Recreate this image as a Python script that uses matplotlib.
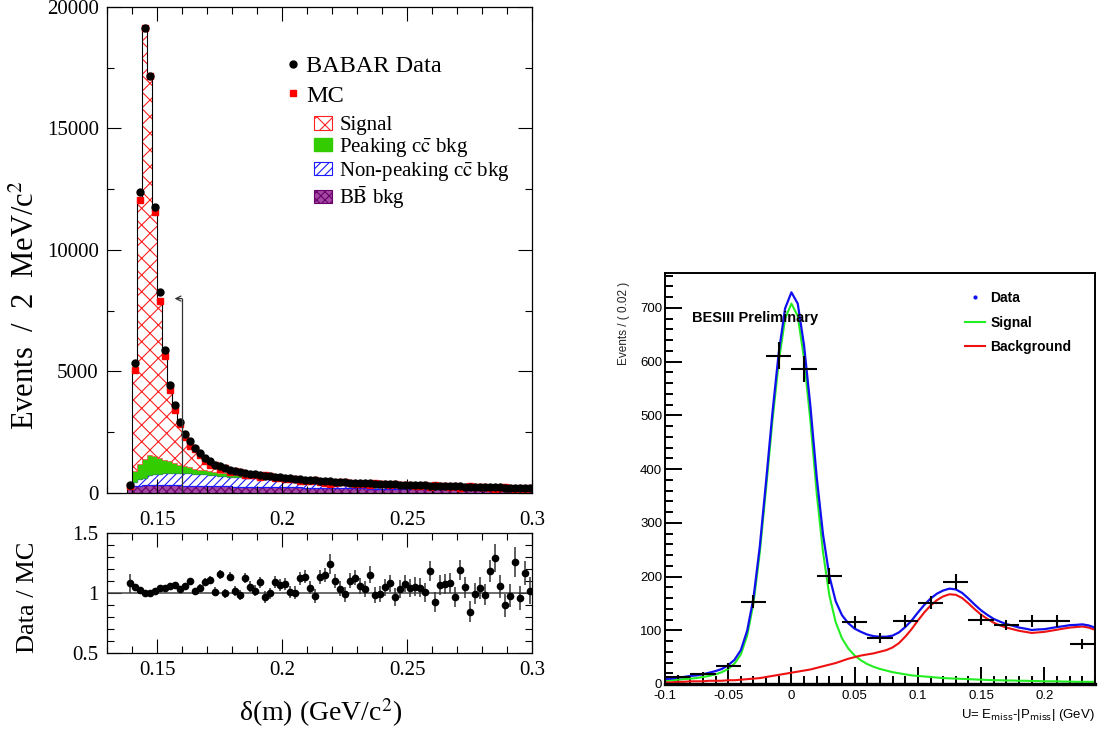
import numpy as np
import matplotlib
matplotlib.use('Agg')
import matplotlib.pyplot as plt
from matplotlib.lines import Line2D
from matplotlib.patches import Patch
from matplotlib.ticker import MultipleLocator, FuncFormatter

plt.rcParams['font.family'] = ['Liberation Serif', 'DejaVu Serif']
plt.rcParams['mathtext.fontset'] = 'stix'
plt.rcParams['hatch.linewidth'] = 0.8

# ---------------- BABAR delta(m), 2 MeV bins starting at 0.138 ----------------
bin_lo = 0.138
bin_w = 0.002
data_counts = [320, 5330, 12400, 19150, 17170, 11780, 8260, 5900, 4460, 3620,
               2920, 2430, 2120, 1850, 1630, 1420, 1300, 1170, 1120, 1030,
               960, 900, 860, 840, 800, 770, 730, 700, 680, 660,
               640, 620, 600, 580, 560, 545, 530, 515, 500, 490,
               480, 465, 450, 440, 430, 420, 410, 400, 392, 384,
               376, 368, 360, 352, 344, 337, 330, 323, 316, 310,
               304, 298, 292, 286, 280, 274, 268, 262, 256, 251,
               246, 241, 236, 231, 226, 221, 216, 212, 208, 204,
               200]
bb_bkg = [150, 290, 305, 315, 320, 320, 318, 316, 314, 312,
          310, 306, 302, 298, 294, 290, 286, 282, 278, 274,
          270, 266, 262, 258, 255, 252, 249, 246, 243, 240,
          237, 234, 231, 228, 225, 222, 219, 216, 213, 210,
          207, 204, 201, 198, 195, 192, 189, 186, 183, 180,
          178, 176, 174, 172, 170, 168, 166, 164, 162, 160,
          158, 156, 154, 152, 150, 148, 146, 145, 144, 143,
          142, 141, 140, 139, 138, 137, 136, 135, 134, 133,
          132]
nonpeak_bkg = [0, 180, 250, 320, 400, 440, 472, 494, 506, 518,
               520, 514, 508, 502, 490, 480, 470, 450, 436, 420,
               404, 392, 380, 368, 356, 346, 336, 326, 316, 306,
               298, 290, 282, 274, 266, 258, 250, 243, 236, 229,
               222, 215, 208, 202, 196, 190, 184, 178, 172, 166,
               160, 154, 148, 142, 137, 132, 127, 122, 117, 112,
               108, 104, 100, 96, 92, 88, 84, 80, 77, 74,
               71, 68, 65, 62, 59, 56, 53, 50, 48, 46,
               44]
peak_bkg = [0, 430, 640, 760, 830, 760, 660, 540, 480, 410,
            330, 280, 240, 200, 175, 160, 145, 135, 120, 110,
            100, 95, 88, 80, 72, 65, 60, 55, 50, 47,
            44, 40, 37, 34, 31, 28, 25, 22, 20, 18,
            16, 14, 12, 11, 10, 9, 8, 8, 7, 7,
            6, 6, 5, 5, 5, 4, 4, 4, 3, 3,
            3, 3, 2, 2, 2, 2, 2, 2, 1, 1,
            1, 1, 1, 1, 1, 1, 1, 1, 1, 1,
            1]
ratio = [1.081, 1.053, 1.028, 1.000, 1.000, 1.019, 1.044, 1.044, 1.056, 1.064,
         1.036, 1.061, 1.097, 1.017, 1.044, 1.092, 1.111, 1.011, 1.156, 0.997,
         1.136, 1.017, 0.983, 1.125, 1.053, 1.017, 1.089, 0.967, 0.997, 1.092,
         1.064, 1.075, 1.008, 1.000, 1.122, 1.136, 1.044, 0.975, 1.136, 1.150,
         1.242, 1.100, 1.036, 0.989, 1.103, 1.128, 1.056, 1.036, 1.153, 0.983,
         0.992, 1.047, 1.081, 0.967, 1.031, 1.078, 1.044, 1.053, 1.044, 1.006,
         1.183, 0.925, 1.064, 1.075, 1.086, 0.967, 1.192, 1.047, 0.844, 0.994,
         1.042, 0.986, 1.183, 1.292, 1.056, 0.897, 0.978, 1.261, 0.961, 1.167,
         1.02]
ratio_err = [0.080, 0.012, 0.010, 0.008, 0.008, 0.010, 0.012, 0.014, 0.016, 0.018,
             0.020, 0.024, 0.026, 0.028, 0.030, 0.032, 0.034, 0.036, 0.038, 0.040,
             0.040, 0.042, 0.042, 0.044, 0.044, 0.046, 0.046, 0.048, 0.048, 0.050,
             0.050, 0.052, 0.052, 0.054, 0.054, 0.056, 0.056, 0.058, 0.058, 0.060,
             0.080, 0.060, 0.062, 0.062, 0.064, 0.064, 0.066, 0.066, 0.068, 0.068,
             0.070, 0.070, 0.072, 0.072, 0.074, 0.074, 0.076, 0.076, 0.078, 0.078,
             0.080, 0.080, 0.082, 0.082, 0.084, 0.084, 0.086, 0.086, 0.088, 0.088,
             0.090, 0.090, 0.095, 0.120, 0.095, 0.095, 0.098, 0.125, 0.100, 0.100,
             0.110]
cut_x = 0.16      # selection cut, drawn as arrow
cut_top = 8000

# ---------------- BESIII U distribution ----------------
u_points = [-0.09, -0.07, -0.05, -0.03, -0.01, 0.01, 0.03, 0.05, 0.07,
            0.09, 0.11, 0.13, 0.15, 0.17, 0.19, 0.21, 0.23]
u_counts = [13, 19, 33, 153, 611, 586, 201, 116, 86, 118, 151, 190, 120, 110, 117, 118, 74]
u_err = [4, 4, 6, 12, 25, 24, 14, 11, 9, 11, 12, 14, 11, 10, 11, 11, 9]
u_halfbin = 0.01
u_curve = np.round(np.arange(-0.1, 0.2401, 0.005), 3)
sig_curve = [6, 7, 8, 9, 10, 11, 13, 15, 18, 22,
             28, 38, 55, 90, 150, 245, 365, 490, 600, 680,
             708, 685, 605, 490, 355, 245, 165, 115, 85, 66,
             53, 44, 37, 32, 28, 25, 22, 20, 18, 16,
             15, 14, 13, 12, 11, 10.5, 10, 9.5, 9, 8.5,
             8, 7.5, 7, 7, 6.5, 6.5, 6, 6, 5.5, 5.5,
             5, 5, 5, 4.5, 4.5, 4, 4, 4, 4]
bkg_curve = [3, 3, 4, 4, 5, 5, 5, 6, 6, 6,
             7, 7, 8, 9, 10, 11, 13, 15, 17, 19,
             21, 23, 25, 27, 30, 33, 36, 39, 43, 47,
             50, 53, 55, 57, 60, 63, 68, 76, 88, 102,
             118, 133, 146, 156, 163, 167, 166, 160, 150, 139,
             129, 121, 114, 109, 105, 102, 99, 97, 95, 96,
             97, 99, 101, 103, 105, 106, 107, 105, 101]

# ---------------- derived ----------------
data = np.array(data_counts, float)
edges = bin_lo + bin_w * np.arange(len(data) + 1)
centers = edges[:-1] + bin_w / 2
mc = data / np.array(ratio)
c1 = np.array(bb_bkg, float)
c2 = c1 + np.array(nonpeak_bkg)
c3 = c2 + np.array(peak_bkg)
c4 = np.maximum(mc, c3)

fig = plt.figure(figsize=(11, 7.35), dpi=100)
ax1 = fig.add_axes([0.0973, 0.3293, 0.3864, 0.6612])
ax2 = fig.add_axes([0.0973, 0.1116, 0.3864, 0.1633])
ax3 = fig.add_axes([0.6045, 0.0694, 0.3909, 0.5592])

# upper left: stacked MC + data
bb_face, bb_edge = '#a347a3', '#6a006a'
ax1.stairs(c1, edges, baseline=0, fill=True, facecolor=bb_face, edgecolor=bb_edge,
           hatch='xxxx', lw=0.4)
ax1.stairs(c2, edges, baseline=c1, fill=True, facecolor='white', edgecolor='#1a1aff',
           hatch='////', lw=0.9)
ax1.stairs(c3, edges, baseline=c2, fill=True, facecolor='#33cc00', edgecolor='#33cc00', lw=0.4)
ax1.stairs(c4, edges, baseline=c3, fill=True, facecolor='white', edgecolor='#ff2020',
           hatch='xx', lw=0.4)
ax1.stairs(mc, edges, color='black', lw=0.8)
ax1.plot(centers, mc, 's', color='#ff0000', ms=4)
ax1.plot(centers, data, 'o', color='black', ms=5)
ax1.plot([cut_x, cut_x], [0, cut_top], color='#333333', lw=0.9)
ax1.annotate('', xy=(cut_x - 0.003, cut_top), xytext=(cut_x, cut_top),
             arrowprops=dict(arrowstyle='->', lw=0.9, color='#333333',
                             shrinkA=0, shrinkB=0, mutation_scale=9))
ax1.set_xlim(0.13, 0.30)
ax1.set_ylim(0, 20000)

h1 = [Line2D([], [], marker='o', color='black', ls='none', ms=5),
      Line2D([], [], marker='s', color='#ff0000', ls='none', ms=4)]
leg1 = ax1.legend(h1, ['BABAR Data', 'MC'], loc='upper left', bbox_to_anchor=(0.4235, 0.901),
                  frameon=False, fontsize=17.5, handlelength=0.5, handletextpad=0.3,
                  labelspacing=0.32, borderpad=0, borderaxespad=0)
ax1.add_artist(leg1)
h2 = [Patch(facecolor='white', edgecolor='#ff2020', hatch='xx', lw=0.8),
      Patch(facecolor='#33cc00', edgecolor='#33cc00'),
      Patch(facecolor='white', edgecolor='#1a1aff', hatch='////', lw=0.8),
      Patch(facecolor=bb_face, edgecolor=bb_edge, hatch='xxxx', lw=0.8)]
ax1.legend(h2, ['Signal', r'Peaking c$\bar{\mathrm{c}}$ bkg',
                r'Non-peaking c$\bar{\mathrm{c}}$ bkg', r'B$\bar{\mathrm{B}}$ bkg'],
           loc='upper left', bbox_to_anchor=(0.487, 0.775), frameon=False, fontsize=15,
           handlelength=0.87, handleheight=0.6, handletextpad=0.34, labelspacing=0.04,
           borderpad=0, borderaxespad=0)

# lower left: ratio
ax2.axhline(1.0, color='#444444', lw=1.1)
ax2.errorbar(centers, ratio, yerr=ratio_err, fmt='o', color='black', ms=4.5,
             ecolor='#333333', elinewidth=1.1, capsize=0)
ax2.set_xlim(0.13, 0.30)
ax2.set_ylim(0.5, 1.5)

gfmt = FuncFormatter(lambda v, p: '%g' % v)
for a in (ax1, ax2):
    a.xaxis.set_major_locator(MultipleLocator(0.05))
    a.xaxis.set_minor_locator(MultipleLocator(0.01))
    a.xaxis.set_major_formatter(gfmt)
    a.yaxis.set_major_formatter(gfmt)
    a.tick_params(which='both', direction='in', top=True, right=True, labelsize=15, width=0.8)
    a.tick_params(which='major', length=10, pad=6)
    a.tick_params(which='minor', length=5)
    for s in a.spines.values():
        s.set_linewidth(0.9)
ax1.tick_params(axis='x', pad=13)
ax1.yaxis.set_major_locator(MultipleLocator(5000))
ax1.yaxis.set_minor_locator(MultipleLocator(2500))
ax2.yaxis.set_major_locator(MultipleLocator(0.5))
ax2.yaxis.set_minor_locator(MultipleLocator(0.1))

fig.text(0.024, 0.585, 'Events  /  2  MeV/c$^2$', rotation=90, ha='center', va='center',
         fontsize=22)
fig.text(0.025, 0.188, 'Data / MC', rotation=90, ha='center', va='center', fontsize=19)
fig.text(0.291, 0.031, 'δ(m) (GeV/c$^2$)', ha='center', va='center', fontsize=20)

# right: BESIII
sans = ['Liberation Sans Narrow', 'Liberation Sans', 'DejaVu Sans']
sig = np.array(sig_curve)
bkg = np.array(bkg_curve)
ax3.plot(u_curve, sig, color='#22ee22', lw=1.5)
ax3.plot(u_curve, bkg, color='#ee1111', lw=1.5)
ax3.vlines(u_curve[-1], 0, bkg[-1], color='#ee1111', lw=1.5)
ax3.plot(u_curve, sig + bkg, color='#1010ee', lw=1.6)
ax3.errorbar(u_points, u_counts, xerr=u_halfbin, yerr=u_err, fmt='none',
             ecolor='black', elinewidth=1.5, capsize=0, zorder=5)
ax3.set_xlim(-0.1, 0.24)
ax3.set_ylim(0, 765)
ax3.xaxis.set_major_locator(MultipleLocator(0.05))
ax3.xaxis.set_minor_locator(MultipleLocator(0.01))
ax3.yaxis.set_major_locator(MultipleLocator(100))
ax3.yaxis.set_minor_locator(MultipleLocator(20))
ax3.xaxis.set_major_formatter(gfmt)
ax3.tick_params(which='both', direction='in', labelsize=9.5, width=1.4)
ax3.tick_params(which='major', length=12)
ax3.tick_params(which='minor', length=6)
ax3.tick_params(axis='x', pad=4)
ax3.tick_params(axis='y', pad=2)
for lab in ax3.get_xticklabels() + ax3.get_yticklabels():
    lab.set_family(sans)
for s in ax3.spines.values():
    s.set_linewidth(1.4)
ax3.spines['bottom'].set_linewidth(2.4)

ax3.text(0.063, 0.89, 'BESIII Preliminary', transform=ax3.transAxes, ha='left', va='center',
         fontsize=10.5, fontweight='bold', family=sans)
h3 = [Line2D([], [], marker='.', color='#1010ee', ls='none', ms=4),
      Line2D([], [], color='#22ee22', lw=1.5),
      Line2D([], [], color='#ee1111', lw=1.5)]
ax3.legend(h3, ['Data', 'Signal', 'Background'], loc='upper left', bbox_to_anchor=(0.698, 0.956),
           frameon=False, prop=dict(family=sans, size=10, weight='bold'), handlelength=1.45,
           handletextpad=0.36, labelspacing=0.76, borderpad=0, borderaxespad=0)
fig.text(0.567, 0.617, 'Events / ( 0.02 )', rotation=90, ha='center', va='top',
         fontsize=8.5, family=sans, color='#222222')
fig.text(0.995, 0.027, r'U= E$_{\rm miss}$-|P$_{\rm miss}$| (GeV)', ha='right', va='center',
         fontsize=9.5, family=sans, math_fontfamily='dejavusans')

fig.savefig('out.png', dpi=100)
